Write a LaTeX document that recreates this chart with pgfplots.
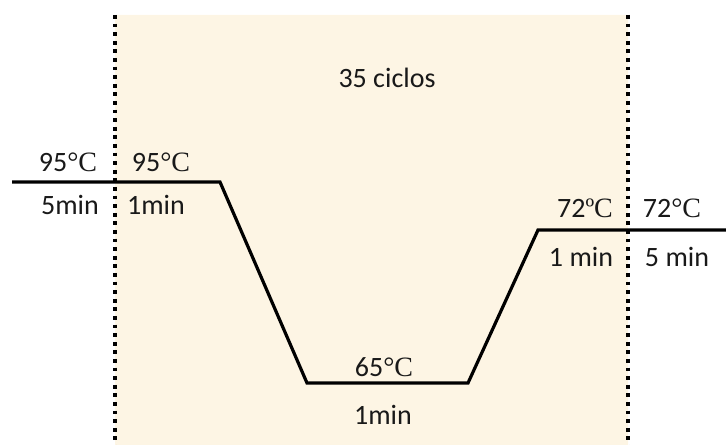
\documentclass[border=0pt]{standalone}
\usepackage{pgfplots}
\pgfplotsset{compat=1.18}
\usepackage{fontspec}
\setmainfont{Carlito}
\newfontfamily\serif{Liberation Serif}
\definecolor{shade}{RGB}{253,245,228}
\tikzset{lab/.style={anchor=base, font=\fontsize{28bp}{33bp}\selectfont, text=black!90}}
\begin{document}
\begin{tikzpicture}
\begin{axis}[
  width=726bp, height=445bp, scale only axis,
  xmin=0, xmax=726, ymin=0, ymax=445,
  hide axis, clip=false,
]
% cycle region
\addplot[fill=shade, draw=none] coordinates {(115,0) (115,430) (628,430) (628,0)} \closedcycle;
% temperature profile
\addplot[black, line width=3.2bp, line join=miter] coordinates {
  (12,263) (220,263) (307,62) (468,62) (538,215) (726,215)};
% dotted boundaries
\addplot[black, line width=3.8bp, dash pattern=on 3.8bp off 4.8bp] coordinates {(115,430) (115,0)};
\addplot[black, line width=3.8bp, dash pattern=on 3.8bp off 4.8bp] coordinates {(628,430) (628,0)};
% labels
\node[lab] at (axis cs:68,273) {95{\serif °C}};
\node[lab] at (axis cs:70,230) {5min};
\node[lab] at (axis cs:161,273) {95{\serif °C}};
\node[lab] at (axis cs:156,230) {1min};
\node[lab] at (axis cs:387,357) {35 ciclos};
\node[lab] at (axis cs:384,68) {65{\serif °C}};
\node[lab] at (axis cs:383,21) {1min};
\node[lab] at (axis cs:585,227) {72{\serif ºC}};
\node[lab] at (axis cs:672,227) {72{\serif °C}};
\node[lab] at (axis cs:581,178) {1 min};
\node[lab] at (axis cs:677,178) {5 min};
\coordinate (a) at (axis cs:0,0);
\coordinate (b) at (axis cs:726,445);
\end{axis}
\pgfresetboundingbox
\useasboundingbox (a) rectangle (b);
\end{tikzpicture}
\end{document}
